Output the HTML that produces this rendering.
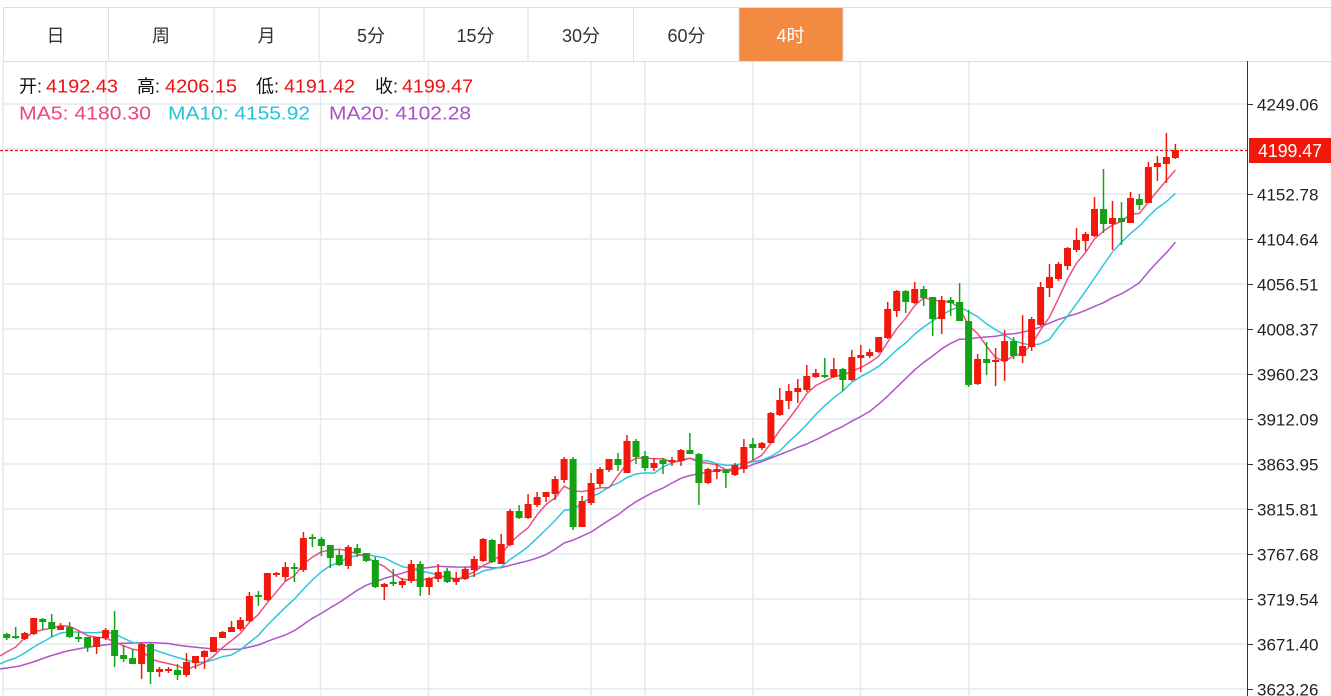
<!DOCTYPE html>
<html><head><meta charset="utf-8"><style>
html,body{margin:0;padding:0;background:#fff;width:1331px;height:696px;overflow:hidden}
svg{display:block}
text{font-family:"Liberation Sans","Noto Sans CJK SC",sans-serif}
</style></head><body>
<svg width="1331" height="696" viewBox="0 0 1331 696" xmlns="http://www.w3.org/2000/svg">
<rect width="1331" height="696" fill="#fff"/>
<!-- grid -->
<g stroke="#e3eaf0" stroke-width="1.5" fill="none">
<path d="M3 61V696M106 61V696M213.5 61V696M320.5 61V696M428.5 61V696M591 61V696M645 61V696M753 61V696M860.5 61V696M969 61V696"/>
<path d="M3 104H1247M3 149H1247M3 194H1247M3 239H1247M3 284H1247M3 329H1247M3 374H1247M3 419H1247M3 464H1247M3 509H1247M3 554H1247M3 599H1247M3 644H1247M3 689H1247"/>
</g>
<!-- tabs -->
<rect x="739" y="7" width="104" height="54" rx="2" fill="#f28b41"/>
<g stroke="#dedede" stroke-width="1" fill="none">
<path d="M3 7.5H1331M3 61.5H1331M3.5 7V61M108.5 7V61M214 7V61M319 7V61M424 7V61M528 7V61M633.5 7V61M739 7V61M843 7V61"/>
</g>
<g font-size="18" fill="#333" text-anchor="middle">
<text x="55.5" y="42">日</text>
<text x="161" y="42">周</text>
<text x="266.5" y="42">月</text>
<text x="371" y="42">5分</text>
<text x="475.5" y="42">15分</text>
<text x="581" y="42">30分</text>
<text x="686.5" y="42">60分</text>
<text x="790.5" y="42" fill="#fff">4时</text>
</g>
<!-- OHLC info -->
<g font-size="18">
<text x="19" y="92.5" fill="#111">开:</text>
<text x="46" y="92.5" fill="#f01010" textLength="72" lengthAdjust="spacingAndGlyphs">4192.43</text>
<text x="137" y="92.5" fill="#111">高:</text>
<text x="165" y="92.5" fill="#f01010" textLength="72" lengthAdjust="spacingAndGlyphs">4206.15</text>
<text x="256" y="92.5" fill="#111">低:</text>
<text x="284" y="92.5" fill="#f01010" textLength="71" lengthAdjust="spacingAndGlyphs">4191.42</text>
<text x="375" y="92.5" fill="#111">收:</text>
<text x="402" y="92.5" fill="#f01010" textLength="71" lengthAdjust="spacingAndGlyphs">4199.47</text>
<text x="19" y="119.5" fill="#e9467d" textLength="132" lengthAdjust="spacingAndGlyphs">MA5:  4180.30</text>
<text x="168" y="119.5" fill="#24c3d9" textLength="142" lengthAdjust="spacingAndGlyphs">MA10: 4155.92</text>
<text x="329" y="119.5" fill="#aa50c4" textLength="142" lengthAdjust="spacingAndGlyphs">MA20: 4102.28</text>
</g>
<!-- MA lines -->
<g fill="none" stroke-width="1.5" stroke-linejoin="round">
<polyline stroke="#b055c8" points="0,669 6.7,668 20,666 33,662 50,656 67,651 83,648 100,645.5 117,643.5 133,643 150,642.5 168.5,643.5 177.5,645.1 186.5,646.3 195.5,647.2 204.5,648.1 213.5,649 222.5,649.5 231.5,649.4 240.4,649.1 249.4,647.1 258.4,645 267.4,641.3 276.4,638.1 285.4,635 294.4,630.6 303.4,624.5 312.4,618.3 321.4,613.4 330.3,607.7 339.3,602.5 348.3,596.4 357.3,590.3 366.3,585.2 375.3,581.8 384.3,578.4 393.3,575.8 402.3,573.2 411.3,570.1 420.2,568.4 429.2,567.5 438.2,566.3 447.2,566.7 456.2,567 465.2,567.1 474.2,566.6 483.2,566.6 492.2,567.8 501.2,567.7 510.1,565.3 519.1,563 528.1,560.8 537.1,558 546.1,554.6 555.1,549.2 564.1,543 573.1,540.1 582.1,536.1 591.1,532 600,526.1 609,520.2 618,514.8 627,507.8 636,501.7 645,496.7 654,491.9 663,488.1 672,483 681,478.3 689.9,475.5 698.9,473.7 707.9,472 716.9,470.6 725.9,469.6 734.9,469 743.9,468.3 752.9,464.4 761.9,461.5 770.9,458 779.8,454.5 788.8,451.1 797.8,447.3 806.8,444 815.8,439.8 824.8,435.3 833.8,430.6 842.8,426.4 851.8,421.2 860.8,416.5 869.7,411.4 878.7,404.1 887.7,396.1 896.7,387.2 905.7,378.6 914.7,369.8 923.7,362.4 932.7,356 941.7,348.8 950.7,343.3 959.6,339.3 968.6,339 977.6,337.6 986.6,337 995.6,336.3 1004.6,334.5 1013.6,333.8 1022.6,332.1 1031.6,330.2 1040.6,326.8 1049.5,323.1 1058.5,319.4 1067.5,316.4 1076.5,313.8 1085.5,310.4 1094.5,306.4 1103.5,302.7 1112.5,297.7 1121.5,293.8 1130.5,288.5 1139.4,282.7 1148.4,271.8 1157.4,262 1166.4,252.7 1175.4,242.2"/>
<polyline stroke="#2ec5dc" points="0,664 6.7,661 15.7,658 24.7,653 33.7,647 42.7,642 51.7,637 60.6,633 69.6,632 78.6,632 87.6,632.7 96.6,632.6 105.6,631.8 114.6,634.1 123.6,638.2 132.6,642.4 141.6,643.9 150.5,648.5 159.5,651.7 168.5,654.7 177.5,657.5 186.5,660 195.5,662.6 204.5,662.1 213.5,659.9 222.5,656.7 231.5,655 240.4,649.8 249.4,642.5 258.4,635.3 267.4,625.1 276.4,616.2 285.4,607.3 294.4,599.1 303.4,589.2 312.4,579.9 321.4,571.8 330.3,565.6 339.3,562.5 348.3,557.5 357.3,555.5 366.3,554.3 375.3,556.3 384.3,557.8 393.3,562.4 402.3,566.6 411.3,568.4 420.2,571.3 429.2,572.6 438.2,575.1 447.2,578 456.2,579.7 465.2,577.9 474.2,575.4 483.2,570.9 492.2,569 501.2,567 510.1,559.4 519.1,553.4 528.1,546.6 537.1,538.1 546.1,529.5 555.1,520.5 564.1,510.5 573.1,509.3 582.1,503.2 591.1,497.1 600,492.9 609,487 618,483.1 627,477.5 636,474 645,472.9 654,473.3 663,467 672,462.9 681,459.6 689.9,458.1 698.9,460.5 707.9,460.9 716.9,463.7 725.9,465.3 734.9,465 743.9,463.4 752.9,461.8 761.9,460.1 770.9,456.4 779.8,451 788.8,441.8 797.8,433.7 806.8,424.4 815.8,414.4 824.8,405.6 833.8,397.8 842.8,391 851.8,382.4 860.8,376.6 869.7,371.8 878.7,366.4 887.7,358.5 896.7,350 905.7,342.9 914.7,334.1 923.7,327 932.7,320.9 941.7,315.2 950.7,310 959.6,306.9 968.6,311.7 977.6,316.7 986.6,323.9 995.6,329.7 1004.6,334.9 1013.6,340.7 1022.6,343.4 1031.6,345.3 1040.6,343.7 1049.5,339.3 1058.5,327.2 1067.5,316.1 1076.5,303.8 1085.5,291.2 1094.5,278 1103.5,264.8 1112.5,252 1121.5,242.3 1130.5,233.4 1139.4,226.2 1148.4,216.5 1157.4,208 1166.4,201.7 1175.4,193.3"/>
<polyline stroke="#ee4f80" points="0,656 6.7,652 15.7,647 24.7,638 33.7,632 42.7,629.8 51.7,628 60.6,625.6 69.6,626.4 78.6,630.6 87.6,635.6 96.6,637.2 105.6,638 114.6,641.8 123.6,645.8 132.6,649.2 141.6,650.6 150.5,659 159.5,661.6 168.5,663.6 177.5,665.8 186.5,669.4 195.5,666.2 204.5,662.6 213.5,656.2 222.5,647.6 231.5,640.6 240.4,633.4 249.4,622.4 258.4,614.4 267.4,602.6 276.4,591.8 285.4,581.2 294.4,575.8 303.4,564 312.4,557.2 321.4,551.8 330.3,550 339.3,549.2 348.3,551 357.3,553.8 366.3,556.8 375.3,562.6 384.3,566.4 393.3,573.8 402.3,579.4 411.3,580 420.2,580 429.2,578.8 438.2,576.4 447.2,576.6 456.2,579.4 465.2,575.8 474.2,572 483.2,565.4 492.2,561.4 501.2,554.6 510.1,543 519.1,534.8 528.1,527.8 537.1,514.8 546.1,504.4 555.1,498 564.1,486.2 573.1,490.8 582.1,491.6 591.1,489.8 600,487.8 609,487.8 618,475.4 627,463.4 636,458.2 645,458 654,458.8 663,458.6 672,462.4 681,461 689.9,458.2 698.9,462.2 707.9,463.2 716.9,465 725.9,469.6 734.9,471.8 743.9,464.6 752.9,460.4 761.9,455.2 770.9,443.2 779.8,430.2 788.8,419 797.8,407 806.8,393.6 815.8,385.6 824.8,381 833.8,376.6 842.8,375 851.8,371.2 860.8,367.6 869.7,362.6 878.7,356.2 887.7,342 896.7,328.8 905.7,318.2 914.7,305.6 923.7,297.8 932.7,299.8 941.7,301.6 950.7,301.8 959.6,308.2 968.6,325.6 977.6,333.6 986.6,346.2 995.6,357.6 1004.6,361.6 1013.6,355.8 1022.6,353.2 1031.6,344.4 1040.6,329.8 1049.5,317 1058.5,298.6 1067.5,279 1076.5,263.2 1085.5,252.6 1094.5,239 1103.5,231 1112.5,225 1121.5,221.4 1130.5,214.2 1139.4,213.4 1148.4,202 1157.4,191 1166.4,180.4 1175.4,170"/>
</g>
<!-- red candles -->
<path fill="none" stroke="#f2180c" stroke-width="1.5" d="M24.7 632V640 M33.7 618V635 M60.6 623V630 M96.6 637V654 M105.6 628V640 M141.6 643V679 M159.5 667V677 M168.5 667V673 M186.5 653V677 M195.5 656V669 M204.5 650V669 M213.5 637V652 M222.5 631V638 M231.5 621V632 M240.4 617V631 M249.4 592V622 M267.4 573V601 M276.4 572V577 M285.4 562V581 M303.4 532V572 M348.3 545V569 M384.3 583V600 M402.3 578V588 M411.3 560V583 M429.2 577V595 M438.2 564V582 M456.2 572V585 M465.2 567V580 M474.2 556V577 M483.2 538V562 M501.2 534V564 M510.1 509V546 M528.1 494V519 M537.1 492V507 M546.1 492V502 M555.1 476V500 M564.1 457V483 M582.1 496V527 M591.1 473V505 M600 467V487 M609 459V472 M627 435V473 M654 458V471 M672 457V466 M681 449V466 M707.9 468V484 M716.9 464V479 M734.9 463V476 M743.9 439V473 M761.9 442V450 M770.9 412V443 M779.8 388V416 M788.8 384V409 M797.8 379V403 M806.8 365V392 M815.8 369V378 M833.8 358V378 M851.8 350V381 M860.8 345V372 M869.7 349V358 M878.7 337V353 M887.7 302V339 M896.7 290V317 M914.7 282V304 M941.7 296V334 M977.6 354V385 M995.6 348V386 M1004.6 330V381 M1022.6 315V363 M1031.6 317V351 M1040.6 282V326 M1049.5 264V297 M1058.5 262V281 M1067.5 247V270 M1076.5 228V252 M1085.5 232V251 M1094.5 197V237 M1112.5 201V250 M1130.5 192V223 M1148.4 162V203 M1157.4 156V181 M1166.4 133V183 M1175.4 144V159"/>
<g fill="#f2180c">
<rect x="21.2" y="633" width="7" height="6"/><rect x="30.2" y="618" width="7" height="16"/><rect x="57.1" y="626" width="7" height="4"/><rect x="93.1" y="637" width="7" height="10"/><rect x="102.1" y="630" width="7" height="8"/><rect x="138.1" y="644" width="7" height="20"/><rect x="156" y="669" width="7" height="3"/><rect x="165" y="669" width="7" height="2"/><rect x="183" y="662" width="7" height="13"/><rect x="192" y="656" width="7" height="7"/><rect x="201" y="651" width="7" height="6"/><rect x="210" y="637" width="7" height="15"/><rect x="219" y="632" width="7" height="6"/><rect x="228" y="627" width="7" height="5"/><rect x="236.9" y="620" width="7" height="9"/><rect x="245.9" y="596" width="7" height="25"/><rect x="263.9" y="573" width="7" height="27"/><rect x="272.9" y="573" width="7" height="2"/><rect x="281.9" y="567" width="7" height="10"/><rect x="299.9" y="538" width="7" height="32"/><rect x="344.8" y="547" width="7" height="19"/><rect x="380.8" y="584" width="7" height="3"/><rect x="398.8" y="581" width="7" height="4"/><rect x="407.8" y="564" width="7" height="17"/><rect x="425.7" y="578" width="7" height="9"/><rect x="434.7" y="572" width="7" height="7"/><rect x="452.7" y="578" width="7" height="4"/><rect x="461.7" y="569" width="7" height="10"/><rect x="470.7" y="559" width="7" height="11"/><rect x="479.7" y="539" width="7" height="22"/><rect x="497.7" y="544" width="7" height="20"/><rect x="506.6" y="511" width="7" height="34"/><rect x="524.6" y="504" width="7" height="14"/><rect x="533.6" y="497" width="7" height="8"/><rect x="542.6" y="492" width="7" height="5"/><rect x="551.6" y="479" width="7" height="15"/><rect x="560.6" y="459" width="7" height="21"/><rect x="578.6" y="501" width="7" height="26"/><rect x="587.6" y="483" width="7" height="20"/><rect x="596.5" y="469" width="7" height="15"/><rect x="605.5" y="459" width="7" height="11"/><rect x="623.5" y="441" width="7" height="32"/><rect x="650.5" y="463" width="7" height="5"/><rect x="668.5" y="460" width="7" height="2"/><rect x="677.5" y="450" width="7" height="11"/><rect x="704.4" y="469" width="7" height="14"/><rect x="713.4" y="469" width="7" height="3"/><rect x="731.4" y="465" width="7" height="10"/><rect x="740.4" y="447" width="7" height="22"/><rect x="758.4" y="443" width="7" height="5"/><rect x="767.4" y="413" width="7" height="30"/><rect x="776.3" y="400" width="7" height="15"/><rect x="785.3" y="391" width="7" height="10"/><rect x="794.3" y="388" width="7" height="4"/><rect x="803.3" y="376" width="7" height="14"/><rect x="812.3" y="373" width="7" height="4"/><rect x="830.3" y="369" width="7" height="8"/><rect x="848.3" y="357" width="7" height="23"/><rect x="857.3" y="355" width="7" height="3"/><rect x="866.2" y="352" width="7" height="4"/><rect x="875.2" y="337" width="7" height="15"/><rect x="884.2" y="309" width="7" height="29"/><rect x="893.2" y="291" width="7" height="20"/><rect x="911.2" y="289" width="7" height="14"/><rect x="938.2" y="300" width="7" height="19"/><rect x="974.1" y="359" width="7" height="25"/><rect x="992.1" y="360" width="7" height="2"/><rect x="1001.1" y="341" width="7" height="20"/><rect x="1019.1" y="346" width="7" height="10"/><rect x="1028.1" y="319" width="7" height="28"/><rect x="1037.1" y="287" width="7" height="38"/><rect x="1046" y="277" width="7" height="11"/><rect x="1055" y="264" width="7" height="15"/><rect x="1064" y="248" width="7" height="18"/><rect x="1073" y="240" width="7" height="10"/><rect x="1082" y="234" width="7" height="7"/><rect x="1091" y="209" width="7" height="27"/><rect x="1109" y="218" width="7" height="6"/><rect x="1127" y="198" width="7" height="25"/><rect x="1144.9" y="167" width="7" height="36"/><rect x="1153.9" y="163" width="7" height="4"/><rect x="1162.9" y="157" width="7" height="7"/><rect x="1171.9" y="150" width="7" height="8"/>
</g>
<!-- green candles -->
<path fill="none" stroke="#13a213" stroke-width="1.5" d="M6.7 633V640 M15.7 627V639 M42.7 618V630 M51.7 614V637 M69.6 622V638 M78.6 632V642 M87.6 637V652 M114.6 611V667 M123.6 645V662 M132.6 649V664 M150.5 643V684 M177.5 664V680 M258.4 591V606 M294.4 563V582 M312.4 534V547 M321.4 537V556 M330.3 545V568 M339.3 550V566 M357.3 544V557 M366.3 553V562 M375.3 557V588 M393.3 569V586 M420.2 561V596 M447.2 568V583 M492.2 539V563 M519.1 505V519 M573.1 457V530 M618 453V471 M636 439V464 M645 451V471 M663 458V474 M689.9 433V454 M698.9 453V505 M725.9 469V488 M752.9 438V460 M824.8 358V378 M842.8 368V391 M905.7 290V313 M923.7 286V306 M932.7 297V336 M950.7 297V316 M959.6 283V321 M968.6 310V387 M986.6 342V375 M1013.6 337V359 M1103.5 169V233 M1121.5 202V245 M1139.4 194V210"/>
<g fill="#13a213">
<rect x="3.2" y="634" width="7" height="4"/><rect x="12.2" y="636" width="7" height="2"/><rect x="39.2" y="619" width="7" height="3"/><rect x="48.2" y="622" width="7" height="7"/><rect x="66.1" y="627" width="7" height="10"/><rect x="75.1" y="637" width="7" height="2"/><rect x="84.1" y="637" width="7" height="10"/><rect x="111.1" y="630" width="7" height="26"/><rect x="120.1" y="655" width="7" height="4"/><rect x="129.1" y="658" width="7" height="6"/><rect x="147" y="644" width="7" height="28"/><rect x="174" y="670" width="7" height="5"/><rect x="254.9" y="595" width="7" height="2"/><rect x="290.9" y="567" width="7" height="2"/><rect x="308.9" y="537" width="7" height="2"/><rect x="317.9" y="539" width="7" height="7"/><rect x="326.8" y="545" width="7" height="13"/><rect x="335.8" y="555" width="7" height="10"/><rect x="353.8" y="548" width="7" height="5"/><rect x="362.8" y="553" width="7" height="8"/><rect x="371.8" y="560" width="7" height="27"/><rect x="389.8" y="582" width="7" height="2"/><rect x="416.7" y="564" width="7" height="23"/><rect x="443.7" y="571" width="7" height="11"/><rect x="488.7" y="540" width="7" height="22"/><rect x="515.6" y="511" width="7" height="7"/><rect x="569.6" y="459" width="7" height="68"/><rect x="614.5" y="459" width="7" height="6"/><rect x="632.5" y="441" width="7" height="16"/><rect x="641.5" y="456" width="7" height="12"/><rect x="659.5" y="460" width="7" height="4"/><rect x="686.4" y="450" width="7" height="4"/><rect x="695.4" y="454" width="7" height="29"/><rect x="722.4" y="470" width="7" height="3"/><rect x="749.4" y="444" width="7" height="4"/><rect x="821.3" y="375" width="7" height="2"/><rect x="839.3" y="369" width="7" height="11"/><rect x="902.2" y="291" width="7" height="11"/><rect x="920.2" y="289" width="7" height="9"/><rect x="929.2" y="297" width="7" height="22"/><rect x="947.2" y="300" width="7" height="3"/><rect x="956.1" y="302" width="7" height="19"/><rect x="965.1" y="321" width="7" height="64"/><rect x="983.1" y="359" width="7" height="4"/><rect x="1010.1" y="341" width="7" height="15"/><rect x="1100" y="209" width="7" height="15"/><rect x="1118" y="218" width="7" height="4"/><rect x="1135.9" y="199" width="7" height="6"/>
</g>
<!-- current price dashed line -->
<line x1="0" y1="150.5" x2="1247" y2="150.5" stroke="#f21010" stroke-width="1.2" stroke-dasharray="3 2"/>
<!-- right axis -->
<path d="M1247.5 61V696" stroke="#333" stroke-width="1"/>
<path d="M1247 104.5H1253M1247 194.5H1253M1247 239.5H1253M1247 284.5H1253M1247 329.5H1253M1247 374.5H1253M1247 419.5H1253M1247 464.5H1253M1247 509.5H1253M1247 554.5H1253M1247 599.5H1253M1247 644.5H1253M1247 689.5H1253" stroke="#333" stroke-width="1"/>
<g font-size="17" fill="#222">
<text x="1257" y="110.5">4249.06</text>
<text x="1257" y="200.5">4152.78</text>
<text x="1257" y="245.5">4104.64</text>
<text x="1257" y="290.5">4056.51</text>
<text x="1257" y="335.5">4008.37</text>
<text x="1257" y="380.5">3960.23</text>
<text x="1257" y="425.5">3912.09</text>
<text x="1257" y="470.5">3863.95</text>
<text x="1257" y="515.5">3815.81</text>
<text x="1257" y="560.5">3767.68</text>
<text x="1257" y="605.5">3719.54</text>
<text x="1257" y="650.5">3671.40</text>
<text x="1257" y="695.5">3623.26</text>
</g>
<rect x="1249" y="138" width="82" height="25" fill="#f2170b"/>
<text x="1258" y="157" font-size="18" fill="#fff" textLength="64" lengthAdjust="spacingAndGlyphs">4199.47</text>
</svg>
</body></html>
